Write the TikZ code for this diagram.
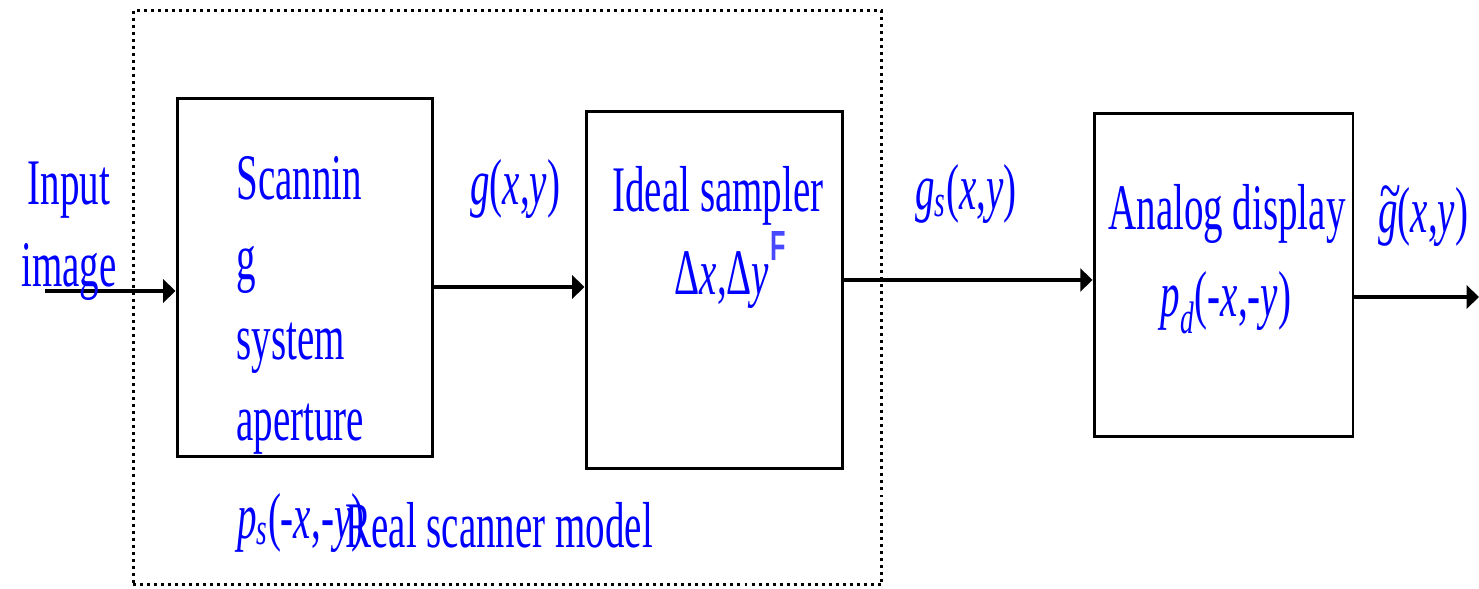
\documentclass[tikz,border=0pt]{standalone}
\usepackage{fontspec}
\setmainfont{Liberation Serif}
\setsansfont{Liberation Sans}
\usepackage{graphicx}
\usetikzlibrary{arrows.meta,positioning,calc}
\definecolor{ink}{HTML}{0000FF}
\definecolor{fglyph}{HTML}{4848FF}
\newcommand\sq[1]{\scalebox{0.6}[1]{#1}}
\newcommand\lblfont{\fontsize{37}{45}\selectfont}

\begin{document}
\begin{tikzpicture}[x=.02cm,y=.02cm,
  blk/.style={draw,line width=1.7pt,inner sep=0pt},
  arr/.style={line width=2.8pt,-{Triangle[length=7pt,width=13pt]}},
  lbl/.style={text=ink,font=\lblfont,inner sep=0pt}]
\useasboundingbox (0,0) rectangle (1479,588);
\node[draw,line width=1.7pt,dash pattern=on 1.7pt off 2.3pt,minimum width=14.98cm,minimum height=11.5cm,inner sep=0pt] (cam) at (507.5,290.5) {};
\node[blk,minimum width=5.12cm,minimum height=7.18cm] (scan) at (305,310.5) {};
\node[blk,minimum width=5.14cm,minimum height=7.16cm] (samp) at (714.5,298) {};
\node[blk,minimum width=5.18cm,minimum height=6.48cm] (disp) at (1223.5,313) {};
\coordinate (in) at (45,297);
\coordinate (out) at (1479,291);
\draw[arr] (in) -- (in -| scan.west);
\draw[arr] ($(scan.east)+(0,-9.5)$) -- ($(samp.west)+(0,3)$);
\draw[arr] ($(samp.east)+(0,10)$) -- ($(disp.west)+(0,-5)$);
\draw[arr] (disp.east |- out) -- (out);
\node[lbl,anchor=base] (inp) at (69,383) {\sq{Input}};
\node[lbl,anchor=base] (img) at (69,301) {\sq{image}};
\foreach \w [count=\i] in {Scannin,g,system,aperture}
  \node[lbl,anchor=base west] (sc\i) at (236,468-\i*80) {\sq{\w}};
\node[lbl,anchor=base west] (ps) at (237,50) {\sq{\textit{p}\textsubscript{\textit{s}}(-\textit{x},-\textit{y})}};
\node[lbl,anchor=base west] (g1) at (470,383) {\sq{\textit{g}(\textit{x},\textit{y})}};
\node[lbl,anchor=base] (id) at (718,376) {\sq{Ideal sampler}};
\node[lbl,anchor=base] (dd) at (722,293) {\sq{Δ\textit{x},Δ\textit{y}}};
\node[text=fglyph,font=\sffamily\bfseries\fontsize{24}{24}\selectfont,inner sep=0pt] (ff) at (778,342) {\sq{F}};
\node[lbl,anchor=base west] (g2) at (915,378) {\sq{\textit{g}\textsubscript{\textit{s}}(\textit{x},\textit{y})}};
\node[lbl,anchor=base] (an) at (1227,358) {\sq{Analog display}};
\node[lbl,anchor=base] (pd) at (1226,271) {\sq{\textit{p}\textsubscript{\textit{d}}(-\textit{x},-\textit{y})}};
\node[lbl,anchor=base west] (g3) at (1378,355) {\sq{\textit{\rlap{\hspace{1pt}\raisebox{0.32em}{\char"7E}}g}(\textit{x},\textit{y})}};
\node[lbl,anchor=base west] (rc) at (345,41) {\sq{Real scanner model}};
\end{tikzpicture}
\end{document}
